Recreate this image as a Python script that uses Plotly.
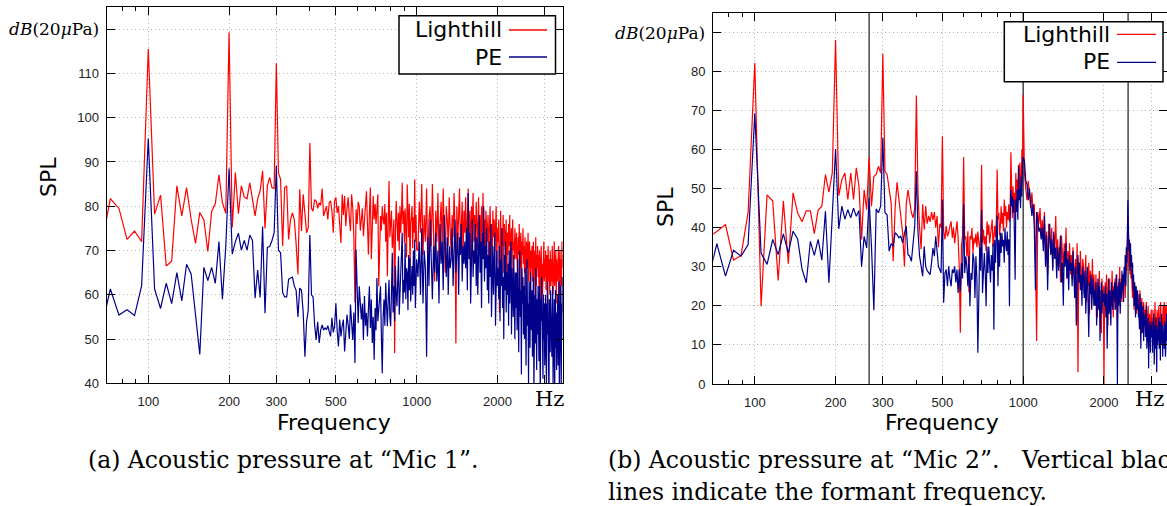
import math
import plotly.graph_objects as go

W, H = 1167, 506

# frequency resolution of the spectra (Hz per bin)
BIN_HZ = 100.0 / 18.0
BINS_LOW = list(range(12, 181))          # every bin up to 1000 Hz
BINS_HIGH = list(range(182, 632, 2))     # every other bin above 1000 Hz
FREQ = [k * BIN_HZ for k in BINS_LOW + BINS_HIGH]

# ---- Mic 1 : Lighthill (red) ----
LH1_LOW = [
    70.5, 81.7, 79.5, 72.5, 74.4, 72.0,
    115.5, 78.2, 82.5, 66.5, 67.6, 84.6, 77.8, 84.2, 77.0, 71.6, 78.6, 76.9, 69.8, 78.8, 80.6, 87.1, 80.8, 78.4,
    119.3, 75.2, 87.6, 78.3, 84.6, 82.1, 81.7, 85.3, 81.6, 77.8, 81.6, 83.5, 88.0, 75.0, 84.6, 86.5, 84.2, 84.0,
    112.3, 87.5, 86.1, 71.0, 84.2, 84.6, 72.5, 77.0, 78.5, 77.0, 71.5, 64.6, 83.8, 74.4, 82.7, 78.0, 74.0, 75.1,
    94.3, 79.5, 78.9, 81.5, 81.2, 79.5, 80.8, 80.2, 84.0, 77.8, 78.9, 80.0, 77.0, 80.8, 81.2, 79.0, 74.0, 81.2,
    82.0, 78.5, 80.0, 76.5, 71.7, 82.7, 78.0, 82.3, 75.5, 79.5, 82.0, 77.5, 74.4, 82.7, 79.7, 73.0, 58.2, 79.3,
    76.0, 81.0, 80.0, 74.5, 77.8, 79.5, 73.2, 77.5, 80.0, 83.4, 76.0, 69.1, 78.5, 84.2, 68.0, 75.5, 82.3, 77.0,
    80.5, 76.0, 79.0, 82.7, 61.9, 72.0, 77.8, 74.5, 80.0, 77.0, 75.9, 80.5, 72.0, 78.5, 64.2, 76.0, 85.7, 73.0,
    75.5, 79.0, 70.5, 72.5, 77.0, 46.8, 74.0, 81.2, 76.5, 72.1, 78.5, 70.0, 80.0, 74.0, 78.0, 85.3, 76.0, 79.0,
    71.7, 79.5, 75.0, 68.5, 84.9, 77.0, 73.0, 80.5, 64.9, 76.0, 78.5, 80.0, 70.5, 77.5, 74.0, 86.1, 72.0, 78.0,
    70.2,
]
LH1_HIGH = [
    70, 81, 74, 85, 69, 78, 72, 84, 66, 77, 80, 71, 85, 74, 63,
    79, 72, 83, 68, 76, 81, 70, 84, 74, 65, 80, 77, 71, 82, 75,
    69, 78, 73, 83, 76, 49, 80, 72, 77, 84, 70, 75, 81, 68, 79,
    74, 82, 70, 77, 84, 71, 79, 67, 80, 75, 83, 72, 78, 69, 81,
    76, 70, 82, 73, 78, 66, 80, 74, 83, 71, 77, 69, 79, 75, 72,
    78, 68, 75, 80, 71, 76, 64, 79, 73, 77, 70, 74, 80, 67, 75,
    72, 77, 56, 74, 79, 68, 75, 71, 78, 65, 76, 73, 70, 77, 62,
    74, 69, 76, 71, 78, 66, 73, 75, 64, 77, 70, 72, 68, 75, 71,
    68, 74, 70, 62, 73, 69, 76, 66, 71, 74, 60, 72, 69, 75, 67,
    71, 65, 73, 68, 61, 72, 70, 66, 74, 63, 69, 72, 67, 60, 70,
    66, 71, 63, 69, 72, 58, 68, 70, 65, 73, 62, 69, 66, 71, 64,
    69, 62, 70, 66, 57, 68, 71, 64, 67, 60, 69, 65, 72, 63, 68,
    64, 70, 61, 67, 69, 58, 66, 71, 63, 68, 65, 60, 70, 66, 62,
    68, 63, 71, 65, 60, 69, 66, 72, 62, 67, 64, 70, 58, 68, 65,
    63, 69, 66, 71, 60, 67, 64, 70, 57, 68, 65, 62, 72, 66, 69,
]

# ---- Mic 1 : PE (blue) ----
PE1_LOW = [
    52.0, 61.3, 55.4, 56.6, 55.3, 62.0,
    95.3, 61.3, 56.9, 62.6, 58.0, 65.0, 58.6, 66.9, 64.7, 56.0, 46.5, 66.2, 63.2, 66.2, 62.6, 72.0, 59.0, 71.0,
    88.5, 69.2, 72.0, 73.9, 70.1, 72.3, 70.1, 73.5, 72.3, 59.2, 65.6, 59.4, 75.4, 55.8, 70.7, 70.9, 72.2, 74.0,
    89.2, 70.0, 69.5, 60.5, 59.5, 59.5, 63.5, 63.8, 64.0, 62.0, 61.0, 55.0, 61.5, 61.0, 56.0, 46.0, 54.0, 56.5,
    73.5, 60.0, 59.5, 53.2, 49.8, 53.9, 49.1, 52.0, 53.2, 52.0, 52.5, 52.1, 53.0, 51.7, 50.6, 54.8, 51.5, 52.9,
    58.1, 52.0, 48.3, 54.4, 50.6, 53.0, 54.4, 47.2, 52.5, 55.5, 53.2, 50.0, 57.8, 53.9, 49.8, 56.0, 44.6, 70.2,
    58.0, 53.6, 61.9, 56.5, 54.4, 58.0, 49.8, 59.7, 53.0, 55.9, 50.6, 57.0, 61.9, 52.5, 58.9, 49.1, 55.0, 45.3,
    57.0, 52.0, 63.8, 54.0, 56.6, 60.0, 61.9, 50.5, 42.3, 55.0, 58.9, 53.0, 62.7, 57.5, 52.9, 59.0, 63.4, 55.0,
    52.9, 60.5, 69.5, 56.0, 61.9, 54.0, 66.5, 60.0, 57.4, 63.0, 68.7, 55.5, 60.0, 62.7, 66.0, 74.0, 58.0, 63.4,
    60.5, 71.7, 59.0, 66.0, 64.9, 56.5, 69.0, 61.0, 68.3, 58.5, 63.0, 66.5, 60.0, 70.0, 62.0, 72.5, 57.0, 64.9,
    68.0,
]
PE1_HIGH = [
    64, 72, 60, 75, 58, 70, 66, 46, 73, 62, 77, 68, 59, 71, 65,
    74, 63, 70, 58, 76, 67, 72, 61, 78, 69, 64, 73, 60, 71, 66,
    68, 75, 62, 72, 77, 65, 70, 74, 60, 73, 69, 76, 63, 71, 67,
    72, 66, 75, 61, 83, 68, 74, 58, 71, 77, 64, 70, 67, 76, 62,
    73, 60, 70, 78, 65, 72, 57, 74, 68, 80, 63, 71, 66, 75, 61,
    69, 58, 72, 64, 76, 55, 68, 71, 60, 66, 74, 53, 67, 70, 62,
    66, 59, 71, 54, 68, 62, 75, 57, 64, 50, 69, 61, 72, 56, 65,
    60, 67, 53, 70, 58, 64, 72, 51, 66, 61, 55, 69, 63, 50, 65,
    57, 65, 52, 68, 60, 47, 63, 70, 55, 61, 42, 66, 58, 64, 51,
    62, 50, 66, 55, 44, 60, 68, 53, 58, 39, 63, 56, 48, 65, 54,
    52, 61, 46, 58, 64, 38, 55, 60, 49, 66, 53, 43, 59, 51, 62,
    57, 45, 62, 52, 36, 59, 54, 64, 48, 56, 41, 60, 50, 58, 44,
    49, 60, 54, 38, 58, 51, 63, 45, 56, 35, 59, 52, 47, 61, 55,
    58, 46, 53, 62, 40, 55, 50, 59, 37, 54, 61, 48, 56, 43, 57,
    51, 60, 44, 57, 63, 39, 55, 48, 62, 53, 36, 58, 50, 64, 56,
]

# ---- Mic 2 : Lighthill (red) ----
LH2_LOW = [
    37.5, 39.0, 40.8, 31.7, 32.9, 43.9,
    82.1, 19.9, 48.4, 46.8, 26.5, 46.8, 30.8, 48.9, 43.8, 41.5, 44.3, 44.3, 38.5, 44.5, 45.5, 53.6, 49.1, 54.0,
    88.0, 48.2, 52.3, 54.0, 47.2, 54.0, 47.2, 55.3, 50.6, 37.0, 49.7, 44.6, 58.1, 45.5, 53.1, 53.6, 55.7, 54.0,
    84.5, 54.4, 53.6, 49.7, 46.3, 31.4, 45.0, 51.6, 47.2, 43.8, 38.7, 30.1, 46.0, 49.7, 47.2, 43.8, 42.5, 45.0,
    73.8, 49.0, 40.0, 34.5, 46.0, 39.5, 45.5, 41.0, 43.0, 41.5, 44.0, 42.0, 44.0, 40.0, 43.0, 35.0, 41.0, 40.0,
    63.4, 39.1, 37.0, 40.4, 37.8, 38.7, 40.4, 41.6, 37.4, 40.0, 36.0, 39.5, 41.6, 37.4, 30.0, 13.1, 35.2, 38.0,
    58.1, 37.0, 37.8, 32.7, 39.1, 23.5, 37.8, 37.0, 39.9, 33.5, 37.4, 36.0, 38.5, 35.0, 39.0, 36.5, 34.0, 38.0,
    56.1, 36.1, 39.5, 35.7, 37.8, 34.0, 41.6, 38.2, 40.8, 36.0, 37.8, 39.5, 42.1, 35.0, 38.0, 40.5, 37.5, 42.1,
    54.9, 42.1, 43.8, 38.0, 40.4, 45.5, 41.0, 43.8, 39.0, 47.2, 43.0, 45.5, 40.0, 44.0, 42.0, 46.0, 41.5, 45.0,
    59.3, 46.3, 42.5, 50.6, 44.0, 48.9, 42.0, 54.0, 47.0, 52.3, 46.0, 56.1, 48.0, 56.6, 50.0, 50.6, 60.0, 55.0,
    74.0,
]
LH2_HIGH = [
    54, 50, 47, 52, 49, 45, 49, 44, 46, 33, 11, 44, 41, 45, 38,
    42, 36, 44, 33, 39, 28, 41, 37, 34, 40, 30, 38, 35, 43, 32,
    37, 30, 35, 26, 38, 33, 29, 36, 31, 40, 27, 34, 30, 36, 28,
    33, 27, 35, 30, 25, 32, 28, 36, 3, 31, 26, 34, 29, 24, 32,
    30, 23, 28, 33, 21, 27, 25, 31, 18, 29, 26, 24, 32, 22, 28,
    25, 20, 28, 23, 17, 26, 22, 29, 19, 24, 13, 27, 21, 25, 0,
    23, 26, 19, 28, 21, 15, 25, 22, 27, 18, 24, 20, 29, 23, 17,
    25, 21, 27, 19, 24, 28, 16, 23, 26, 22, 30, 20, 25, 27, 21,
    26, 23, 28, 25, 30, 22, 27, 31, 29, 34, 43, 33, 30, 36, 28,
    31, 27, 29, 25, 22, 28, 24, 19, 26, 23, 21, 25, 18, 22, 20,
    23, 19, 21, 16, 24, 18, 20, 13, 22, 17, 19, 15, 21, 18, 16,
    19, 14, 18, 21, 12, 17, 15, 20, 9, 16, 18, 13, 17, 15, 19,
    14, 17, 12, 19, 16, 10, 18, 15, 21, 13, 17, 11, 16, 19, 14,
    18, 13, 20, 16, 12, 19, 15, 21, 14, 17, 10, 18, 16, 20, 15,
    17, 21, 14, 19, 16, 20, 13, 18, 15, 21, 12, 19, 17, 16, 20,
]

# ---- Mic 2 : PE (blue) ----
PE2_LOW = [
    26.0, 35.9, 27.6, 34.2, 32.7, 35.7,
    69.2, 33.5, 30.6, 37.0, 33.1, 38.4, 33.5, 39.1, 37.1, 29.4, 25.9, 36.5, 32.9, 37.0, 31.7, 44.2, 25.9, 43.8,
    60.1, 39.7, 45.5, 42.2, 44.6, 42.5, 45.0, 42.9, 44.4, 30.0, 37.8, 34.8, 47.6, 35.0, 18.9, 44.8, 43.8, 45.5,
    63.0, 43.8, 43.3, 34.0, 35.9, 35.2, 38.7, 38.2, 37.4, 37.8, 36.1, 38.5, 40.4, 33.1, 32.7, 31.4, 36.0, 40.4,
    54.4, 39.1, 32.7, 29.3, 27.6, 35.2, 30.1, 29.0, 28.4, 28.0, 31.0, 34.8, 32.7, 37.8, 34.0, 30.1, 29.3, 28.4,
    47.2, 20.8, 28.4, 29.3, 25.0, 30.1, 27.0, 25.0, 29.3, 28.4, 30.1, 26.0, 29.3, 23.3, 29.3, 23.7, 31.0, 27.0,
    46.0, 28.4, 32.7, 30.1, 25.0, 32.7, 19.9, 28.4, 26.7, 33.5, 31.8, 22.0, 32.7, 27.0, 8.0, 30.0, 35.0, 29.0,
    44.6, 23.3, 29.3, 33.5, 28.4, 19.9, 35.2, 28.4, 35.2, 30.0, 26.0, 33.0, 29.0, 36.0, 13.9, 36.9, 31.0, 38.0,
    43.1, 25.0, 36.9, 30.0, 38.7, 33.5, 38.7, 35.2, 36.9, 31.0, 40.0, 36.0, 34.0, 39.0, 33.0, 37.0, 19.9, 42.0,
    49.7, 45.5, 48.0, 43.8, 47.2, 38.0, 26.7, 47.2, 44.0, 49.7, 42.0, 55.7, 47.0, 50.0, 45.0, 53.0, 48.0, 56.0,
    58.0,
]
PE2_HIGH = [
    57, 52, 51, 47, 50, 46, 43, 46, 40, 24, 44, 42, 39, 40, 37,
    40, 34, 43, 30, 38, 24, 36, 41, 33, 37, 29, 39, 32, 35, 27,
    35, 29, 33, 38, 26, 31, 20, 34, 30, 36, 27, 32, 24, 33, 29,
    31, 25, 34, 28, 22, 30, 15, 29, 33, 26, 31, 24, 28, 20, 30,
    27, 22, 29, 18, 25, 30, 21, 12, 26, 23, 28, 19, 24, 27, 20,
    24, 20, 26, 15, 23, 27, 19, 25, 11, 22, 26, 18, 24, 21, 23,
    20, 25, 17, 23, 9, 22, 27, 18, 24, 20, 15, 26, 21, 19, 24,
    22, 26, 19, 24, 28, 21, 0, 25, 20, 27, 23, 18, 26, 22, 29,
    24, 28, 21, 30, 26, 33, 25, 35, 31, 38, 47, 40, 34, 37, 29,
    36, 30, 33, 27, 31, 24, 28, 20, 26, 23, 17, 25, 21, 19, 24,
    22, 17, 20, 14, 23, 18, 9, 21, 16, 19, 13, 20, 11, 17, 15,
    18, 12, 16, 20, 9, 15, 13, 17, 4, 14, 11, 16, 8, 15, 12,
    12, 16, 8, 14, 11, 18, 5, 13, 15, 9, 17, 12, 3, 14, 10,
    15, 11, 17, 9, 13, 16, 6, 14, 12, 18, 10, 13, 7, 15, 11,
    13, 9, 16, 12, 7, 15, 11, 18, 10, 14, 5, 13, 16, 9, 12,
]

LH1 = LH1_LOW + LH1_HIGH
PE1 = PE1_LOW + PE1_HIGH
LH2 = LH2_LOW + LH2_HIGH
PE2 = PE2_LOW + PE2_HIGH

FORMANTS = [266.7, 1000.0, 2460.0]

X_TICKS = [100, 200, 300, 500, 1000, 2000, 3000]
X_TICK_TEXT = ["100", "200", "300", "500", "1000", "2000", ""]
X_MINOR = [80, 90, 400, 600, 700, 800, 900]
Y1_TICKS = list(range(40, 130, 10))
Y2_TICKS = list(range(0, 100, 10))

RED = "#ff0000"
BLUE = "#00008b"


def px(x):
    return x / W


def py(y):
    return 1 - y / H


fig = go.Figure()

# formant lines (mic 2)
for f in FORMANTS:
    fig.add_trace(go.Scatter(x=[f, f], y=[0, 95], mode="lines", xaxis="x2", yaxis="y2",
                             line=dict(color="#3c3c3c", width=1.4), showlegend=False, hoverinfo="skip"))

fig.add_trace(go.Scatter(x=FREQ, y=LH1, mode="lines", line=dict(color=RED, width=1.2),
                         name="Lighthill", showlegend=False, xaxis="x", yaxis="y"))
fig.add_trace(go.Scatter(x=FREQ, y=PE1, mode="lines", line=dict(color=BLUE, width=1.2),
                         name="PE", showlegend=False, xaxis="x", yaxis="y"))
fig.add_trace(go.Scatter(x=FREQ, y=LH2, mode="lines", line=dict(color=RED, width=1.2),
                         name="Lighthill", showlegend=False, xaxis="x2", yaxis="y2"))
fig.add_trace(go.Scatter(x=FREQ, y=PE2, mode="lines", line=dict(color=BLUE, width=1.2),
                         name="PE", showlegend=False, xaxis="x2", yaxis="y2"))

tickfont = dict(family="Liberation Sans, Arial, sans-serif", size=13, color="#222")
common_x = dict(type="log", tickvals=X_TICKS, ticktext=X_TICK_TEXT, ticks="inside", ticklen=8,
                tickcolor="black", showline=True, linecolor="black", linewidth=1.2, mirror="allticks",
                showgrid=True, gridcolor="#b4b4b4", griddash="1px,3px", gridwidth=1, tickfont=tickfont,
                ticklabelstandoff=6, zeroline=False, automargin=False,
                minor=dict(tickvals=X_MINOR, ticks="inside", ticklen=4, tickcolor="black", showgrid=False))
common_y = dict(ticks="inside", ticklen=8, tickcolor="black", showline=True, linecolor="black",
                linewidth=1.2, mirror="allticks", showgrid=True, gridcolor="#b4b4b4", griddash="1px,3px",
                gridwidth=1, tickfont=tickfont, zeroline=False, ticklabelstandoff=4, automargin=False)

x_lo = math.log10(70)
fig.update_layout(
    width=W, height=H, margin=dict(l=0, r=0, t=0, b=0, autoexpand=False),
    paper_bgcolor="white", plot_bgcolor="white", showlegend=False,
    xaxis=dict(common_x, domain=[px(106.7), px(562.7)], range=[x_lo, math.log10(3500)], anchor="y"),
    yaxis=dict(common_y, domain=[py(383.3), py(7)], range=[40, 125], anchor="x",
               tickvals=Y1_TICKS, ticktext=[str(v) if v < 120 else "" for v in Y1_TICKS]),
    xaxis2=dict(common_x, domain=[px(713.2), 1.0], range=[x_lo, x_lo + 453.8 / 268.4], anchor="y2"),
    yaxis2=dict(common_y, domain=[py(384), py(12.7)], range=[0, 95], anchor="x2",
                tickvals=Y2_TICKS, ticktext=[str(v) if v < 90 else "" for v in Y2_TICKS]),
)

ann = []
sans = "DejaVu Sans, sans-serif"
serif = "DejaVu Serif, serif"


def text(x, y, s, size, family, xanchor="center", angle=0, color="black"):
    ann.append(dict(x=px(x), y=py(y), xref="paper", yref="paper", text=s, showarrow=False,
                    xanchor=xanchor, yanchor="middle", textangle=angle,
                    font=dict(family=family, size=size, color=color)))


# axis titles
text(48, 177, "SPL", 22, sans, angle=-90)
text(665, 207, "SPL", 22, sans, angle=-90)
text(334, 422, "Frequency", 22, sans)
text(942, 422, "Frequency", 22, sans)
# units
text(101, 29, "<i>dB</i>(20<i>μ</i>Pa)", 17, serif, xanchor="right")
text(707, 33, "<i>dB</i>(20<i>μ</i>Pa)", 17, serif, xanchor="right")
text(549, 399, "Hz", 21, serif)
text(1149, 399, "Hz", 21, serif)
# captions
text(86, 460, "(a) Acoustic pressure at “Mic 1”.", 23.5, serif, xanchor="left")
text(606, 460, "(b) Acoustic pressure at “Mic 2”.\u00a0\u00a0 Vertical black", 23.5, serif, xanchor="left")
text(606, 492, "lines indicate the formant frequency.", 23.5, serif, xanchor="left")
# legends
text(504, 30, "Lighthill", 22, sans, xanchor="right")
text(504, 57, "PE", 22, sans, xanchor="right")
text(1112, 34, "Lighthill", 22, sans, xanchor="right")
text(1112, 62, "PE", 22, sans, xanchor="right")

shapes = []


def box(x0, y0, x1, y1):
    shapes.append(dict(type="rect", xref="paper", yref="paper", x0=px(x0), x1=px(x1), y0=py(y1), y1=py(y0),
                       line=dict(color="black", width=1.5), fillcolor="white", layer="above"))


def seg(x0, x1, y, color):
    shapes.append(dict(type="line", xref="paper", yref="paper", x0=px(x0), x1=px(x1), y0=py(y), y1=py(y),
                       line=dict(color=color, width=1.3), layer="above"))


box(399, 15.7, 555.5, 74)
seg(509, 547, 30, RED)
seg(509, 547, 57, BLUE)
box(1004.3, 21.7, 1163, 81.7)
seg(1117, 1156, 34.3, RED)
seg(1117, 1156, 62.3, BLUE)

fig.update_layout(annotations=ann, shapes=shapes)
fig.write_html("out.html", config={"displayModeBar": False},
               post_script="document.body.style.margin='0';document.body.style.padding='0';document.body.style.overflow='hidden';")
